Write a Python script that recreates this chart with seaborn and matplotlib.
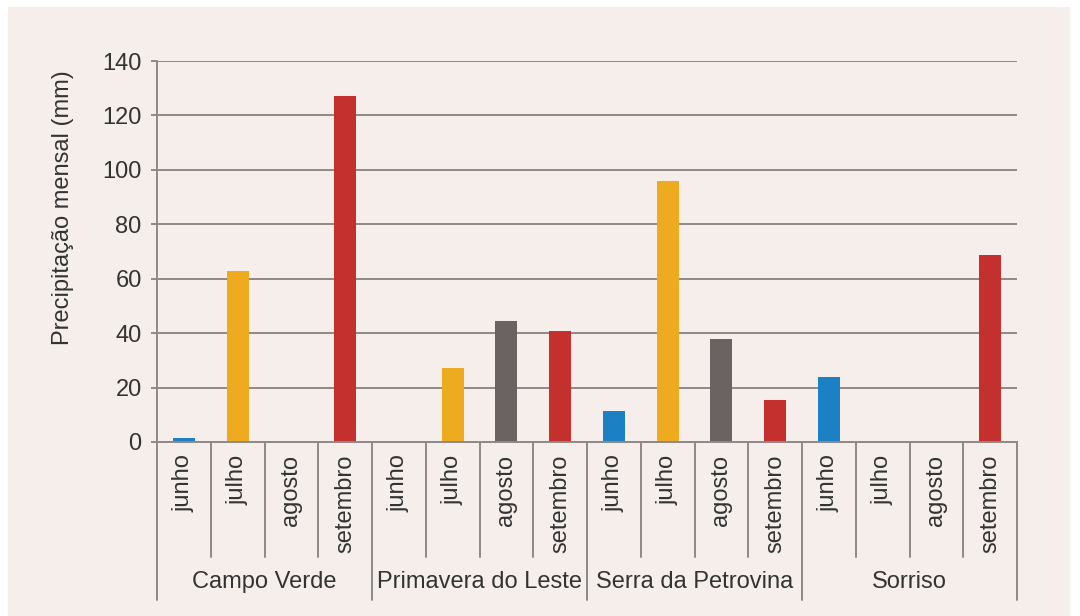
import pandas as pd
import matplotlib
matplotlib.use('Agg')
import matplotlib.pyplot as plt
import matplotlib.transforms as mtransforms
from matplotlib.patches import Rectangle
import seaborn as sns

# Data
locais = ['Campo Verde', 'Primavera do Leste', 'Serra da Petrovina', 'Sorriso']
meses = ['junho', 'julho', 'agosto', 'setembro']
campo_verde = [1.5, 62.8, 0, 127.2]
primavera = [0, 27.2, 44.5, 40.8]
serra = [11.4, 96.0, 37.9, 15.4]
sorriso = [23.9, 0, 0, 68.8]

cores = {'junho': '#1b80c4', 'julho': '#eeab20', 'agosto': '#6b6361', 'setembro': '#c4302d'}

rows = []
for local, vals in zip(locais, [campo_verde, primavera, serra, sorriso]):
    for mes, v in zip(meses, vals):
        rows.append({'local': local, 'mes': mes, 'cat': f'{local}|{mes}', 'precip': v})
df = pd.DataFrame(rows)

sns.set_theme(style='white')
plt.rcParams['font.family'] = ['Liberation Sans', 'DejaVu Sans']

bg = '#f5eeeb'
grid_c = '#8f8a8a'
txt = '#333333'

fig = plt.figure(figsize=(10.8, 6.16), dpi=100, facecolor='white')
fig.patches.append(Rectangle((8 / 1080, 0), (1070 - 8) / 1080, 1 - 7 / 616,
                             transform=fig.transFigure, facecolor=bg, edgecolor='none', zorder=-10))
ax = fig.add_axes([157 / 1080, 1 - 442 / 616, (1017 - 157) / 1080, (442 - 61) / 616])
ax.set_facecolor('none')

sns.barplot(data=df, x='cat', y='precip', hue='mes', palette=cores, dodge=False,
            width=0.41, legend=False, ax=ax, saturation=1, linewidth=0)

ax.set_ylim(0, 140)
ax.set_xlim(-0.5, len(df) - 0.5)
ax.set_yticks(range(0, 141, 20))
ax.yaxis.grid(True, color=grid_c, linewidth=1.4)
ax.set_axisbelow(True)
for s in ['top', 'right']:
    ax.spines[s].set_visible(False)
ax.spines['left'].set_color(grid_c)
ax.spines['left'].set_linewidth(1.4)
ax.spines['bottom'].set_color(grid_c)
ax.spines['bottom'].set_linewidth(1.4)
ax.tick_params(axis='y', length=4, width=1.4, color=grid_c, pad=7, labelsize=17, labelcolor=txt, left=True)
ax.tick_params(axis='x', length=0, pad=9, labelsize=17, labelcolor=txt)
ax.set_xticks(range(len(df)))
ax.set_xticklabels(df['mes'], rotation=90, va='top', ha='center')
ax.set_xlabel('')
ax.set_ylabel('Precipitação mensal (mm)', fontsize=17, color=txt)
ax.yaxis.set_label_coords(-0.097, 0.615)

# separators below the axis
trans = mtransforms.blended_transform_factory(ax.transData, ax.transAxes)
n = len(df)
for i in range(n + 1):
    bottom = -0.415 if i % 4 == 0 else -0.302
    ax.plot([i - 0.5, i - 0.5], [0, bottom], transform=trans, color=grid_c,
            linewidth=1.4, clip_on=False)
for g, local in enumerate(locais):
    ax.text(g * 4 + 1.5, -0.367, local, transform=trans, ha='center', va='center',
            fontsize=17, color=txt)

fig.savefig('out.png', dpi=100, facecolor=fig.get_facecolor())
